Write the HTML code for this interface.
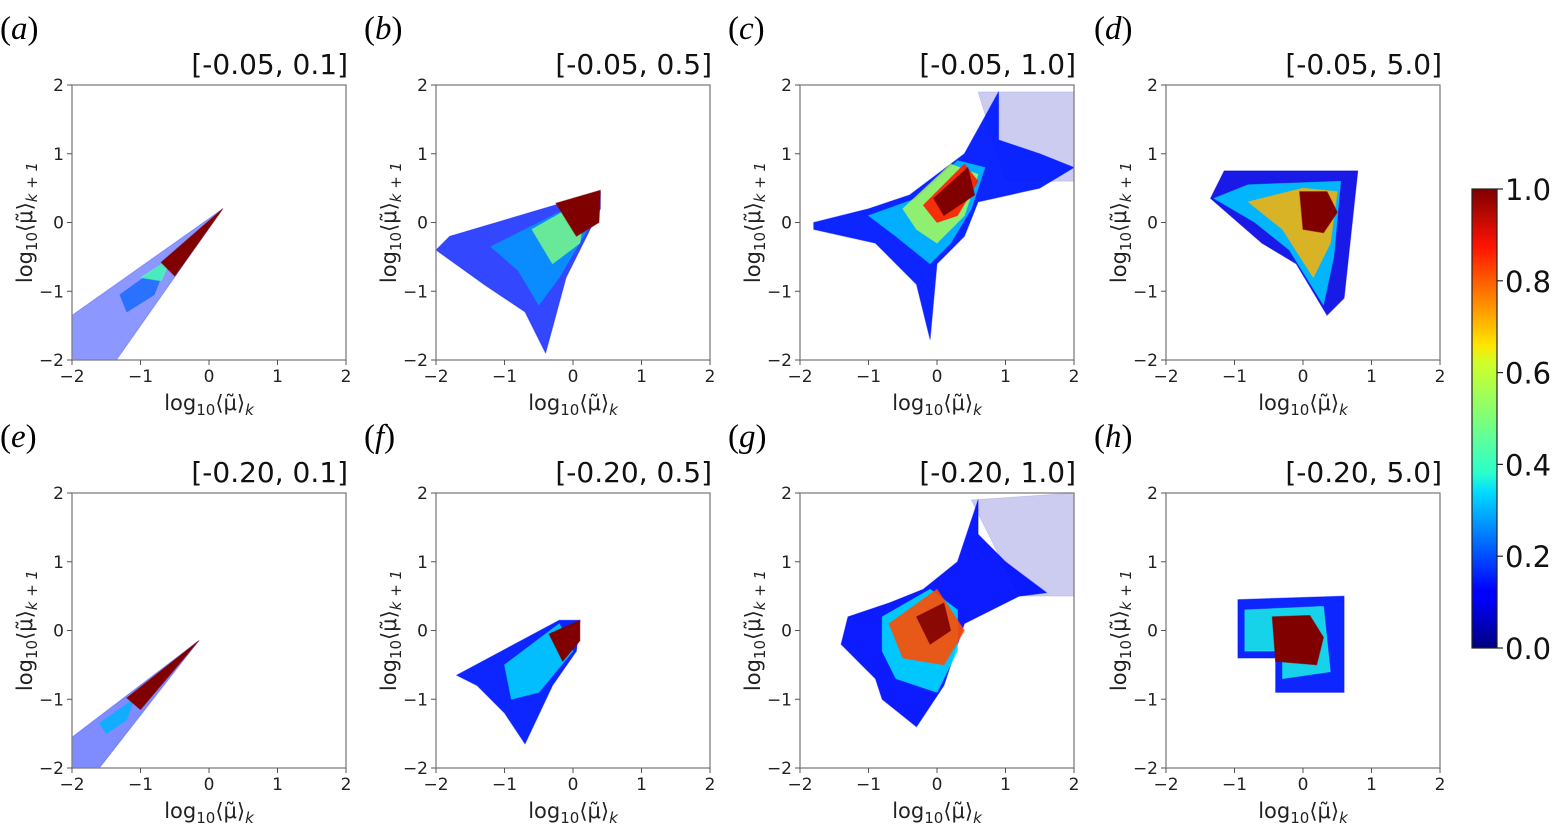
<!DOCTYPE html>
<html><head><meta charset="utf-8">
<style>
html,body{margin:0;padding:0;background:#fff;}
svg{display:block;font-family:"DejaVu Sans","Liberation Sans",sans-serif;}
</style></head>
<body>
<svg id="fig" width="1555" height="827" viewBox="0 0 1555 827" xmlns="http://www.w3.org/2000/svg">
<defs>
<linearGradient id="jet" x1="0" y1="1" x2="0" y2="0">
<stop offset="0" stop-color="#00007f"/>
<stop offset="0.11" stop-color="#0000ff"/>
<stop offset="0.125" stop-color="#0000ff"/>
<stop offset="0.34" stop-color="#00dcff"/>
<stop offset="0.38" stop-color="#29ffce"/>
<stop offset="0.5" stop-color="#7dff7a"/>
<stop offset="0.62" stop-color="#ceff29"/>
<stop offset="0.66" stop-color="#ffe600"/>
<stop offset="0.875" stop-color="#ff1300"/>
<stop offset="1" stop-color="#7f0000"/>
</linearGradient>
</defs>
</svg>
<script>
// panel metadata
const panelLetters = ["a","b","c","d","e","f","g","h"];
const panelTitles = ["[-0.05, 0.1]","[-0.05, 0.5]","[-0.05, 1.0]","[-0.05, 5.0]","[-0.20, 0.1]","[-0.20, 0.5]","[-0.20, 1.0]","[-0.20, 5.0]"];
const tickValues = [-2,-1,0,1,2];
const tickLabels = ["\u22122","\u22121","0","1","2"];
const cbarTicks = [0,0.2,0.4,0.6,0.8,1.0];
const cbarLabels = ["0.0","0.2","0.4","0.6","0.8","1.0"];

// density regions per panel: [level, opacity, polygon in data coords (x,y pairs)]
const regionsA = [
 [0.15,0.45,[-2,-1.35,-2,-2,-1.35,-2,0.2,0.2]],
 [0.22,0.7,[-1.3,-1.05,-0.6,-0.55,-0.8,-1.05,-1.2,-1.3]],
 [0.45,0.85,[-1.0,-0.8,-0.55,-0.52,-0.7,-0.85]],
 [1.0,1,[-0.7,-0.58,0.2,0.2,-0.5,-0.78]]
];
const regionsB = [
 [0.15,0.8,[-2,-0.4,-1.8,-0.2,0.4,0.45,0.4,0.2,-0.1,-0.8,-0.4,-1.9,-0.7,-1.3,-1.3,-0.9]],
 [0.28,0.8,[-1.2,-0.35,0.2,0.35,0.3,0.05,-0.2,-0.8,-0.5,-1.2,-0.8,-0.7]],
 [0.5,0.8,[-0.6,-0.1,0.2,0.35,0.1,-0.3,-0.3,-0.6]],
 [1.0,1,[-0.25,0.28,0.4,0.47,0.38,0.0,0.05,-0.2]]
];
const regionsC = [
 [0.05,0.2,[0.6,1.9,2,1.9,2,0.6,1.0,0.6]],
 [0.15,0.95,[-1.8,0,-1.0,0.2,-0.4,0.4,0.4,1.0,0.9,1.9,0.9,1.2,1.5,1.0,2,0.8,1.5,0.5,0.6,0.3,0.4,-0.2,0.0,-0.6,-0.1,-1.7,-0.3,-0.9,-0.9,-0.3,-1.8,-0.1]],
 [0.32,0.85,[-1.0,0.1,-0.3,0.35,0.3,0.9,0.7,0.8,0.5,0.2,0.2,-0.3,-0.1,-0.6,-0.6,-0.2]],
 [0.55,0.8,[-0.5,0.2,0.2,0.85,0.6,0.7,0.4,0.1,0.0,-0.3,-0.3,-0.1]],
 [0.85,0.9,[-0.2,0.25,0.4,0.85,0.6,0.6,0.3,0.1,0.0,0.0]],
 [1.0,1,[-0.05,0.35,0.45,0.8,0.55,0.4,0.1,0.1]]
];
const regionsD = [
 [0.1,0.9,[-1.35,0.35,-1.15,0.75,0.8,0.75,0.6,-1.1,0.35,-1.35,-0.1,-0.6,-0.6,-0.3]],
 [0.32,0.9,[-1.3,0.35,-0.8,0.55,0.55,0.6,0.45,-0.5,0.3,-1.2,-0.2,-0.4,-0.7,0.0]],
 [0.7,0.85,[-0.8,0.3,0.0,0.5,0.5,0.45,0.4,-0.3,0.15,-0.8,-0.3,-0.1]],
 [1.0,1,[-0.05,0.45,0.35,0.45,0.5,0.15,0.3,-0.15,0.0,-0.1]]
];
const regionsE = [
 [0.15,0.5,[-2,-1.55,-2,-2,-1.6,-2,-0.15,-0.15]],
 [0.3,0.85,[-1.6,-1.35,-1.1,-1.0,-1.2,-1.3,-1.5,-1.5]],
 [1.0,1,[-1.2,-0.98,-0.15,-0.15,-1.0,-1.15]]
];
const regionsF = [
 [0.15,0.95,[-1.7,-0.65,-0.2,0.15,0.1,0.15,0.05,-0.3,-0.3,-0.8,-0.7,-1.65,-1.0,-1.2,-1.4,-0.8]],
 [0.35,0.8,[-1.0,-0.5,-0.2,0.1,0.0,-0.3,-0.5,-0.9,-0.9,-1.0]],
 [1.0,1,[-0.35,-0.05,0.1,0.15,0.1,-0.15,-0.15,-0.45]]
];
const regionsG = [
 [0.05,0.2,[0.5,1.9,2,2,2,0.5,1.2,0.5]],
 [0.14,0.95,[-1.4,-0.2,-1.3,0.2,-0.7,0.4,-0.2,0.6,0.3,1.0,0.6,1.9,0.6,1.4,1.0,1.0,1.6,0.55,1.2,0.5,0.4,0.1,0.1,-0.8,-0.3,-1.4,-0.8,-1.0,-0.9,-0.7,-1.1,-0.5]],
 [0.35,0.85,[-0.8,0.2,-0.1,0.6,0.3,0.3,0.3,-0.3,0.0,-0.9,-0.6,-0.7,-0.8,-0.3]],
 [0.8,0.9,[-0.7,0.1,0.0,0.6,0.4,0.0,0.1,-0.5,-0.5,-0.4]],
 [1.0,0.9,[-0.3,0.2,0.1,0.4,0.2,0.0,-0.1,-0.2]]
];
const regionsH = [
 [0.15,0.95,[-0.95,0.45,0.6,0.5,0.6,-0.9,-0.4,-0.9,-0.4,-0.4,-0.95,-0.4]],
 [0.4,0.8,[-0.85,0.3,0.3,0.35,0.4,-0.6,-0.3,-0.7,-0.3,-0.3,-0.85,-0.3]],
 [1.0,1,[-0.45,0.2,0.1,0.22,0.3,-0.1,0.2,-0.5,-0.4,-0.45]]
];
const panelRegions = [regionsA,regionsB,regionsC,regionsD,regionsE,regionsF,regionsG,regionsH];

const NS = "http://www.w3.org/2000/svg";
const svg = document.getElementById("fig");
const colLeft = [72,436,800,1166];
const rowTop = [85,493];
const W = 274, H = 275;

function jet(v){
  const r = Math.min(Math.max(Math.min(4*v-1.5,-4*v+4.5),0),1);
  const g = Math.min(Math.max(Math.min(4*v-0.5,-4*v+3.5),0),1);
  const b = Math.min(Math.max(Math.min(4*v+0.5,-4*v+2.5),0),1);
  return `rgb(${Math.round(r*255)},${Math.round(g*255)},${Math.round(b*255)})`;
}
function mk(tag, attrs, parent){
  const e = document.createElementNS(NS, tag);
  for (const k in attrs) e.setAttribute(k, attrs[k]);
  (parent||svg).appendChild(e);
  return e;
}

panelLetters.forEach((L,i)=>{
  const x0 = colLeft[i%4], y0 = rowTop[Math.floor(i/4)];
  const sx = v => x0 + (v+2)/4*W;
  const sy = v => y0 + H - (v+2)/4*H;
  const g = mk("g",{});
  
  
  panelRegions[i].forEach((r,j)=>{
    const pts=[]; const d=r[2];
    for(let k=0;k<d.length;k+=2) pts.push(sx(d[k]).toFixed(1)+","+sy(d[k+1]).toFixed(1));
    const p = mk("polygon",{points:pts.join(" "),fill:jet(r[0]),"fill-opacity":r[1],stroke:jet(r[0]),"stroke-opacity":r[1]*0.5,"stroke-width":1,"stroke-linejoin":"round"},g);
    
    
  });
  const fr = mk("rect",{x:x0,y:y0,width:W,height:H,fill:"none",stroke:"#7f7f7f","stroke-width":1.3},g);
  
  
  tickValues.forEach((t,k)=>{
    mk("line",{x1:sx(t),x2:sx(t),y1:y0+H,y2:y0+H+5,stroke:"#555"},g);
    const tx = mk("text",{x:sx(t),y:y0+H+22,"font-size":17,"text-anchor":"middle",fill:"#222"},g);
    tx.textContent = tickLabels[k];
    
    
    mk("line",{x1:x0-5,x2:x0,y1:sy(t),y2:sy(t),stroke:"#555"},g);
    const ty = mk("text",{x:x0-8,y:sy(t)+6,"font-size":17,"text-anchor":"end",fill:"#222"},g);
    ty.textContent = tickLabels[k];
    
    
  });
  const xl = mk("text",{x:x0+W/2,y:y0+H+50,"font-size":21,"text-anchor":"middle",fill:"#222"},g);
  xl.innerHTML = 'log<tspan font-size="15" dy="5">10</tspan><tspan dy="-5">⟨μ̃⟩</tspan><tspan font-size="15" dy="5" font-style="italic">k</tspan>';
  
  
  const yl = mk("text",{x:0,y:0,"font-size":21,"text-anchor":"middle",fill:"#222",transform:`translate(${x0-40},${y0+H/2}) rotate(-90)`},g);
  yl.innerHTML = 'log<tspan font-size="15" dy="5">10</tspan><tspan dy="-5">⟨μ̃⟩</tspan><tspan font-size="15" dy="5" font-style="italic">k + 1</tspan>';
  
  
  const tt = mk("text",{x:x0+W+2,y:y0-11,"font-size":28,"text-anchor":"end",fill:"#111"},g);
  tt.textContent = panelTitles[i];
  
  
  const pl = mk("text",{x:x0-72,y:y0-46,"font-size":33,fill:"#000","font-family":"Liberation Serif, serif"},g);
  pl.innerHTML = '(<tspan font-style="italic">'+L+'</tspan>)';
  
  
});

// colorbar
const cbX=1472, cbTop=189, cbBot=648, cbW=25;
const cb = mk("rect",{x:cbX,y:cbTop,width:cbW,height:cbBot-cbTop,fill:"url(#jet)",stroke:"#222","stroke-width":1.2});


cbarTicks.forEach((t,k)=>{
  const y = cbBot - t*(cbBot-cbTop);
  mk("line",{x1:cbX+cbW,x2:cbX+cbW+6,y1:y,y2:y,stroke:"#222","stroke-width":1.2});
  const lt = mk("text",{x:cbX+cbW+8,y:y+11,"font-size":29,fill:"#111"});
  lt.textContent = cbarLabels[k];
  
  
});
</script>
</body></html>
